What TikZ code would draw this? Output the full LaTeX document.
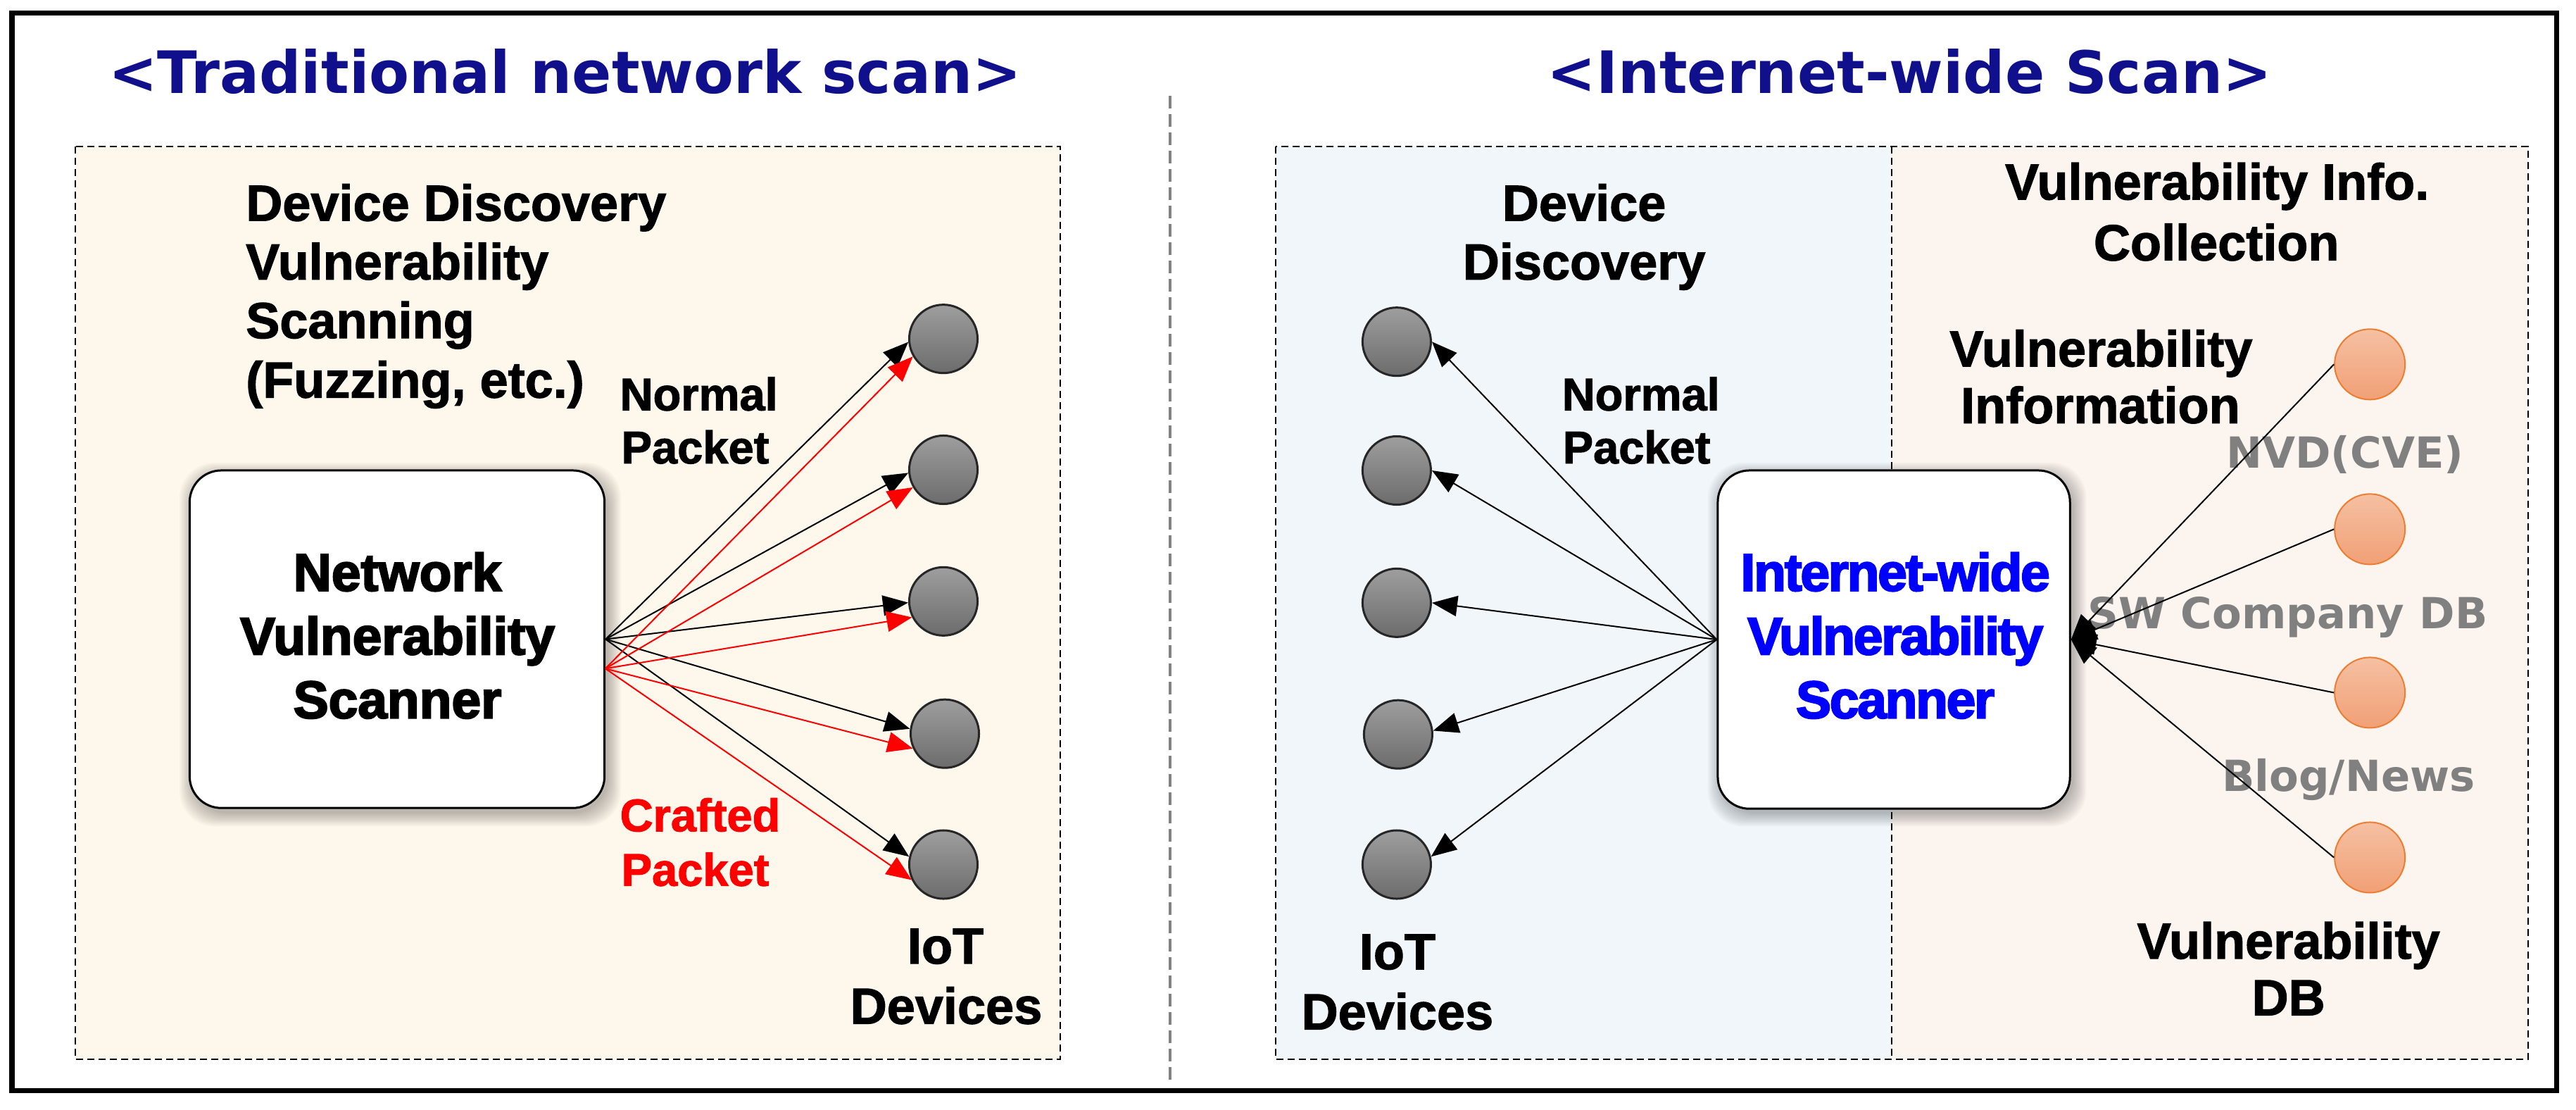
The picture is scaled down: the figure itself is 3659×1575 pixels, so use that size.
\documentclass[tikz,border=0pt]{standalone}
\usepackage{fontspec}
\setmainfont{Liberation Sans}[BoldFeatures={FakeBold=1.6}]
\newfontfamily\titlefont{DejaVu Sans}
\newfontfamily\srcfont{DejaVu Sans}
\newfontfamily\heavyfont{Liberation Sans}[BoldFeatures={FakeBold=3}]
\newfontfamily\tightfont{Liberation Sans}[BoldFeatures={FakeBold=3,LetterSpace=-3}]
\usetikzlibrary{arrows.meta}
\definecolor{titleblue}{RGB}{16,16,140}
\definecolor{leftbg}{RGB}{253,247,236}
\definecolor{bluebg}{RGB}{241,246,251}
\definecolor{pinkbg}{RGB}{251,244,239}
\definecolor{labgray}{RGB}{128,128,128}
\definecolor{orangeedge}{RGB}{237,125,49}
\definecolor{orangetop}{RGB}{245,192,162}
\definecolor{orangebot}{RGB}{241,160,118}
\definecolor{graytop}{RGB}{158,158,158}
\definecolor{graybot}{RGB}{108,108,108}
\definecolor{scanblue}{RGB}{0,0,255}
\definecolor{divgray}{RGB}{130,130,130}
\begin{document}
\begin{tikzpicture}[x=0.01cm,y=-0.01cm,
  title/.style={font=\titlefont\bfseries\fontsize{23.6}{28}\selectfont, text=titleblue, inner sep=0, anchor=base},
  body/.style={font=\bfseries\fontsize{20.5}{24}\selectfont, inner sep=0},
  small/.style={font=\bfseries\fontsize{18.5}{22}\selectfont, inner sep=0, anchor=base west},
  scan/.style={font=\heavyfont\bfseries\fontsize{21.3}{25}\selectfont, inner sep=0, anchor=base},
  bluescan/.style={font=\tightfont\bfseries\fontsize{21.3}{25}\selectfont, text=scanblue, inner sep=0, anchor=base},
  src/.style={font=\srcfont\bfseries\fontsize{17.3}{21}\selectfont, inner sep=0, anchor=base, text=labgray},
  iot/.style={circle, draw=black!85, line width=0.03cm, minimum size=0.97cm, inner sep=0, top color=graytop, bottom color=graybot},
  vdb/.style={circle, draw=orangeedge, line width=0.02cm, minimum size=1.0cm, inner sep=0, top color=orangetop, bottom color=orangebot},
  scanbox/.style={draw=black, line width=0.03cm, rounded corners=0.45cm, fill=white, inner sep=0},
  region/.style={draw=black, line width=0.02cm, dash pattern=on 0.1cm off 0.06cm},
  shadowlayer/.style={fill=black, opacity=0.028, rounded corners=0.5cm},
  arr/.style={-{Triangle[length=0.36cm,width=0.29cm]}, line width=0.02cm},
]
\useasboundingbox (0,0) rectangle (3659,1575);
\fill[white] (0,0) rectangle (3659,1575);
% outer frame and divider
\draw[line width=0.07cm] (17,18) rectangle (3631,1548);
\draw[divgray, line width=0.04cm, dash pattern=on 0.18cm off 0.08cm] (1662,136) -- (1662,1537);
% regions
\fill[leftbg] (107,208) rectangle (1506,1504);
\draw[region] (107,208) rectangle (1506,1504);
\fill[bluebg] (1812,208) rectangle (2687,1504);
\fill[pinkbg] (2687,208) rectangle (3591,1504);
\draw[region] (1812,208) rectangle (3591,1504);
\draw[region] (2687,208) -- (2687,1504);

% ---------- left half ----------
\begin{scope}[xscale=1.0045,yscale=1.0045]
\node[title] (t1) at (799,132) {<Traditional network scan>};
\node[body, anchor=base west] (ld1) at (347,312) {Device Discovery};
\node[body, anchor=base west] (ld2) at (347,395) {Vulnerability};
\node[body, anchor=base west] (ld3) at (347,478) {Scanning};
\node[body, anchor=base west] (ld4) at (347,562) {(Fuzzing, etc.)};
\node[small] (lnp1) at (876,580) {Normal};
\node[small] (lnp2) at (878,655) {Packet};
\node[small, text=red] (lcp1) at (876,1175) {Crafted};
\node[small, text=red] (lcp2) at (878,1252) {Packet};
\node[body, anchor=base] (liot1) at (1337,1362) {IoT};
\node[body, anchor=base] (liot2) at (1338,1447) {Devices};
\foreach \d in {0,2,...,18} {
  \fill[shadowlayer] (272-\d,672-\d) rectangle (860+\d,1150+\d);
}
\node[scanbox, minimum width=5.89cm, minimum height=4.79cm] (nvs) at (561.5,903.5) {};
\node[scan] (ls1) at (562,835) {Network};
\node[scan] (ls2) at (562,925) {Vulnerability};
\node[scan] (ls3) at (562,1015) {Scanner};
\node[iot] (L1) at (1334,479) {};
\node[iot] (L2) at (1334,664) {};
\node[iot] (L3) at (1334,850) {};
\node[iot] (L4) at (1336,1037) {};
\node[iot] (L5) at (1334,1222) {};
\coordinate (nred) at (856,945);
\end{scope}

% ---------- middle (device discovery) ----------
\begin{scope}[shift={(-7,0)},xscale=1.0045,yscale=1.0045]
\node[body, anchor=base] (rd1) at (2247,312) {Device};
\node[body, anchor=base] (rd2) at (2247,395) {Discovery};
\node[small] (rnp1) at (2215,580) {Normal};
\node[small] (rnp2) at (2216,655) {Packet};
\node[body, anchor=base] (riot1) at (1983,1370) {IoT};
\node[body, anchor=base] (riot2) at (1983,1455) {Devices};
\node[iot] (R1) at (1982,483) {};
\node[iot] (R2) at (1982,665) {};
\node[iot] (R3) at (1982,852) {};
\node[iot] (R4) at (1984,1038) {};
\node[iot] (R5) at (1982,1222) {};
\end{scope}

% ---------- right part ----------
\begin{scope}[shift={(-9,0)},xscale=1.0045,yscale=1.0045]
\node[title] (t2) at (2709,132) {<Internet-wide Scan>};
\node[body, anchor=base] (vc1) at (3144,282) {Vulnerability Info.};
\node[body, anchor=base] (vc2) at (3143,368) {Collection};
\node[body, anchor=base] (vi1) at (2980,518) {Vulnerability};
\node[body, anchor=base] (vi2) at (2979,598) {Information};
\node[body, anchor=base] (vdb1) at (3245,1355) {Vulnerability};
\node[body, anchor=base] (vdb2) at (3245,1435) {DB};
\node[src] (s1) at (3325,662) {NVD(CVE)};
\node[src] (s2) at (3244,888) {SW Company DB};
\node[src] (s3) at (3330,1118) {Blog/News};
\foreach \d in {0,2,...,18} {
  \fill[shadowlayer] (2442-\d,672-\d) rectangle (2941+\d,1150+\d);
}
\node[scanbox, minimum width=5.0cm, minimum height=4.8cm] (iws) at (2687,904) {};
\node[bluescan] (rs1) at (2689,835) {Internet-wide};
\node[bluescan] (rs2) at (2689,925) {Vulnerability};
\node[bluescan] (rs3) at (2689,1015) {Scanner};
\node[vdb] (V1) at (3360,515) {};
\node[vdb] (V2) at (3360,748) {};
\node[vdb] (V3) at (3360,979) {};
\node[vdb] (V4) at (3360,1212) {};
\end{scope}

% ---------- connectors ----------
\draw[arr] (nvs.east) -- (L1.185);
\draw[arr] (nvs.east) -- (L2.185);
\draw[arr] (nvs.east) -- (L3.182);
\draw[arr] (nvs.east) -- (L4.172);
\draw[arr] (nvs.east) -- (L5.167);
\draw[arr, red] (nred) -- (L1.210);
\draw[arr, red] (nred) -- (L2.210);
\draw[arr, red] (nred) -- (L3.207);
\draw[arr, red] (nred) -- (L4.205);
\draw[arr, red] (nred) -- (L5.206);
\draw[arr] (iws.west) -- (R1.east);
\draw[arr] (iws.west) -- (R2.east);
\draw[arr] (iws.west) -- (R3.east);
\draw[arr] (iws.west) -- (R4.6);
\draw[arr] (iws.west) -- (R5.13);
\draw[arr] (V1.west) -- (iws.east);
\draw[arr] (V2.west) -- (iws.east);
\draw[arr] (V3.west) -- (iws.east);
\draw[arr] (V4.west) -- (iws.east);
\end{tikzpicture}
\end{document}
